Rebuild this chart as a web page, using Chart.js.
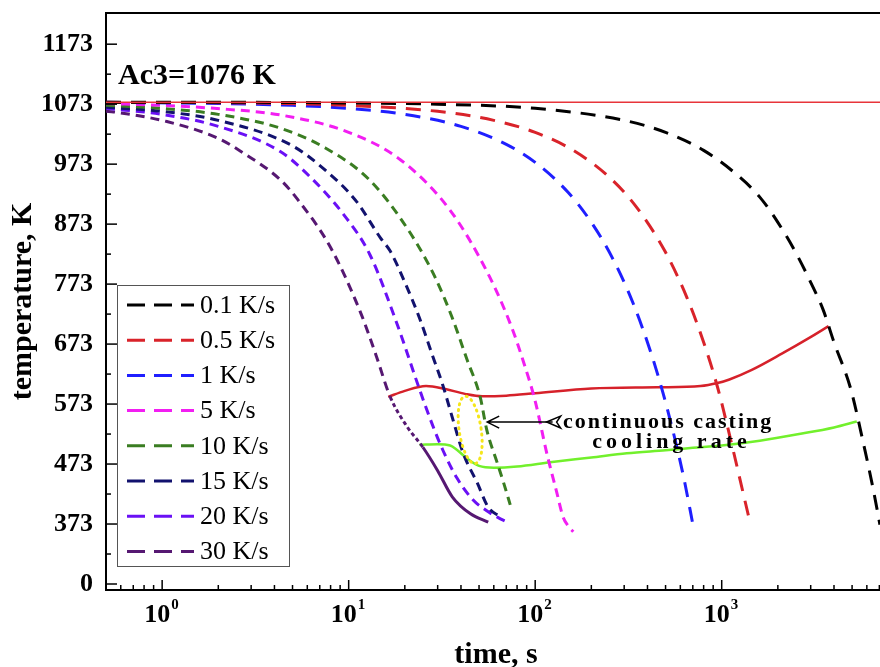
<!DOCTYPE html>
<html>
<head>
<meta charset="utf-8">
<title>Cooling curves</title>
<script src="https://cdn.jsdelivr.net/npm/chart.js@4.4.1/dist/chart.umd.min.js"></script>
<style>
  html, body { margin: 0; padding: 0; background: #fff; overflow: hidden; }
  #wrap { width: 890px; height: 667px; }
</style>
</head>
<body>
<div id="wrap"><canvas id="coolingChart" width="890" height="667"></canvas></div>
<script>
// cooling rates (legend order)
const rateLabels = ['0.1 K/s', '0.5 K/s', '1 K/s', '5 K/s', '10 K/s', '15 K/s', '20 K/s', '30 K/s'];

// time (s) / temperature (K)
const time01 = [0.5, 1, 3, 10, 30, 100, 300, 500, 800, 1200, 1600, 2000, 2500, 3000, 3500, 4000, 4900, 5700, 6500, 7050];
const temp01 = [1076, 1076, 1076, 1075, 1073, 1066, 1046, 1026, 996, 956, 918, 876, 825, 776, 730, 676, 600, 513, 430, 372];
const time05 = [0.5, 3, 10, 30, 60, 100, 160, 250, 350, 500, 650, 800, 950, 1150, 1300, 1420];
const temp05 = [1076, 1075, 1071, 1061, 1046, 1026, 996, 951, 901, 826, 751, 676, 601, 497, 426, 375];
const time1 = [0.5, 2, 5, 10, 20, 40, 70, 100, 150, 200, 260, 335, 420, 486, 560, 630, 703];
const temp1 = [1076, 1074, 1071, 1066, 1056, 1036, 1006, 976, 926, 876, 816, 741, 656, 590, 516, 446, 370];
const time5 = [0.5, 1, 1.9, 4.3, 10, 19, 35, 57, 75, 86, 100, 116, 130, 141, 150, 160];
const temp5 = [1074, 1071, 1066, 1055, 1026, 980, 896, 785, 700, 646, 578, 488, 428, 385, 370, 360];
const time10 = [0.5, 1, 2, 4.3, 7.5, 13, 20.8, 29, 36, 43, 50.7, 55, 62.6, 68, 73.5];
const temp10 = [1071, 1066, 1056, 1033, 1000, 946, 864, 785, 716, 648, 585, 530, 475, 440, 405];
const time15 = [0.5, 1, 2, 4.9, 7.3, 11, 14.8, 16.7, 20, 24, 28, 32, 36, 41, 49, 56, 65];
const temp15 = [1068, 1061, 1046, 1005, 966, 911, 850, 828, 776, 716, 656, 604, 550, 492, 441, 401, 385];
const time20 = [0.5, 1, 2, 4.3, 6.2, 9.4, 13, 18.2, 24.2, 28, 32, 38, 46.5, 55, 63, 71];
const temp20 = [1066, 1056, 1036, 994, 952, 889, 822, 706, 594, 540, 496, 450, 413, 395, 384, 376];
const time30 = [0.5, 0.55, 1.06, 2, 2.62, 4.3, 5.3, 8, 11.5, 14, 16.7, 20.6, 25, 30, 36, 45, 56];
const temp30 = [1061, 1060, 1044, 1016, 995, 947, 915, 834, 728, 655, 585, 535, 501, 462, 418, 390, 376];

// continuous casting cooling curves (solid)
const castTimeUpper = [16.3, 20, 26, 33, 42, 52, 70, 100, 200, 450, 770, 950, 1100, 1450, 2100, 2900, 3740];
const castTempUpper = [585, 595, 603, 598, 590, 586, 587, 591, 599, 601, 603, 608, 614, 630, 657, 682, 703];
const castTimeLower = [24, 30, 35, 38, 41, 45, 50, 60, 80, 120, 200, 310, 500, 700, 1000, 1600, 2600, 4000, 5300];
const castTempLower = [505, 506, 504, 497, 488, 478, 470, 467, 469, 476, 484, 491, 496, 500, 504, 512, 523, 534, 544];

const ac3Temp = 1076;

// axis ticks
const yTickValues = [273, 373, 473, 573, 673, 773, 873, 973, 1073, 1173];
const yTickLabels = ['0', '373', '473', '573', '673', '773', '873', '973', '1073', '1173'];
const xTickValues = [1, 10, 100, 1000];
const xTickPowers = ['0', '1', '2', '3'];

const rateColors = ['#000000', '#d9232a', '#1f1fff', '#f21ef2', '#3a7d22', '#12126e', '#6a10f5', '#561872'];
const rateDashes = [[15, 10], [15, 10], [15, 10], [9, 6], [9, 6], [9, 6], [9, 6], [9, 6]];
const serif = "'Liberation Serif', 'Times New Roman', serif";

const seriesTimes = [time01, time05, time1, time5, time10, time15, time20, time30];
const seriesTemps = [temp01, temp05, temp1, temp5, temp10, temp15, temp20, temp30];

function toPoints(ts, Ts) {
    return ts.map((t, i) => ({ x: t, y: Ts[i] }));
}

const datasets = rateLabels.map((label, i) => ({
    label: label,
    data: toPoints(seriesTimes[i], seriesTemps[i]),
    borderColor: rateColors[i],
    borderWidth: 3,
    borderDash: rateDashes[i],
    pointRadius: 0,
    fill: false,
    cubicInterpolationMode: 'monotone'
}));

// the 30 K/s curve turns solid where it follows the casting path
datasets[7].segment = {
    borderDash: ctx => ctx.p0.parsed.x >= 24 ? [] : (ctx.p0.parsed.x >= 16.5 ? [4, 3] : [9, 6])
};

datasets.push({
    label: 'casting upper',
    data: toPoints(castTimeUpper, castTempUpper),
    borderColor: '#d6212a', borderWidth: 2.5, pointRadius: 0, fill: false,
    cubicInterpolationMode: 'monotone'
});
datasets.push({
    label: 'casting lower',
    data: toPoints(castTimeLower, castTempLower),
    borderColor: '#72f02c', borderWidth: 2.5, pointRadius: 0, fill: false,
    cubicInterpolationMode: 'monotone'
});
datasets.push({
    label: 'Ac3',
    data: [{ x: 0.5, y: ac3Temp }, { x: 7600, y: ac3Temp }],
    borderColor: '#e8343a', borderWidth: 1.5, pointRadius: 0, fill: false,
    order: -1
});

// inward ticks, top frame, log labels, legend box and annotations
const framePlugin = {
    id: 'frame',
    afterDraw(chart) {
        const c = chart.ctx;
        const area = chart.chartArea;
        const xs = chart.scales.x;
        const ys = chart.scales.y;
        c.save();
        c.strokeStyle = '#000';
        c.lineWidth = 2;
        c.beginPath();
        c.moveTo(area.left, area.top);
        c.lineTo(area.right, area.top);
        c.stroke();

        // y ticks
        c.lineWidth = 1.5;
        yTickValues.forEach(v => {
            const y = ys.getPixelForValue(v);
            c.beginPath(); c.moveTo(area.left, y); c.lineTo(area.left + 11, y); c.stroke();
            const ym = ys.getPixelForValue(v + 50);
            if (ym > area.top + 5) {
                c.beginPath(); c.moveTo(area.left, ym); c.lineTo(area.left + 5, ym); c.stroke();
            }
        });

        // x ticks
        for (let d = 0.1; d <= 10000; d *= 10) {
            for (let m = 1; m < 10; m++) {
                const v = d * m;
                if (v < xs.min || v > xs.max) continue;
                const x = xs.getPixelForValue(v);
                const len = m === 1 ? 10 : 5;
                c.beginPath(); c.moveTo(x, area.bottom); c.lineTo(x, area.bottom - len); c.stroke();
            }
        }

        // x tick labels 10^n
        c.fillStyle = '#000';
        c.textBaseline = 'alphabetic';
        xTickValues.forEach((v, i) => {
            const x = xs.getPixelForValue(v);
            c.font = 'bold 26px ' + serif;
            c.textAlign = 'right';
            c.fillText('10', x + 8, 622);
            c.font = 'bold 15px ' + serif;
            c.textAlign = 'left';
            c.fillText(xTickPowers[i], x + 9, 609);
        });

        // Ac3 label
        c.font = 'bold 30px ' + serif;
        c.textAlign = 'left';
        c.textBaseline = 'middle';
        c.fillText('Ac3=1076 K', xs.getPixelForValue(0.58), ys.getPixelForValue(1120));

        // yellow dotted ellipse
        c.strokeStyle = '#f5e61a';
        c.lineWidth = 3;
        c.lineCap = 'round';
        c.setLineDash([1, 5]);
        c.beginPath();
        c.ellipse(xs.getPixelForValue(44.8), ys.getPixelForValue(530), 11, 34, -0.15, 0, Math.PI * 2);
        c.stroke();
        c.setLineDash([]);
        c.lineCap = 'butt';

        // arrow
        const ay = ys.getPixelForValue(543);
        const ax0 = xs.getPixelForValue(55.3);
        const ax1 = xs.getPixelForValue(124);
        c.strokeStyle = '#000';
        c.lineWidth = 1.5;
        c.beginPath();
        c.moveTo(ax0, ay); c.lineTo(ax1, ay);
        c.moveTo(ax0 + 12, ay - 6); c.lineTo(ax0, ay); c.lineTo(ax0 + 12, ay + 6);
        c.stroke();
        c.beginPath();
        c.moveTo(ax1 - 6, ay); c.lineTo(ax1 + 8, ay - 6); c.lineTo(ax1 + 4, ay); c.lineTo(ax1 + 8, ay + 6); c.closePath();
        c.stroke();

        c.font = 'bold 22px ' + serif;
        c.letterSpacing = '2px';
        c.fillText('continuous casting', xs.getPixelForValue(141), ay);
        c.letterSpacing = '4px';
        c.fillText('cooling rate', xs.getPixelForValue(202), ys.getPixelForValue(510));
        c.letterSpacing = '0px';

        // legend box
        const lx = area.left + 11, ly = 285, lw = 172, lh = 281;
        c.fillStyle = '#fff';
        c.fillRect(lx, ly, lw, lh);
        c.strokeStyle = '#555';
        c.lineWidth = 1;
        c.strokeRect(lx + 0.5, ly + 0.5, lw, lh);
        c.font = '26px ' + serif;
        c.textAlign = 'left';
        c.textBaseline = 'middle';
        rateLabels.forEach((label, i) => {
            const y = 305 + i * 35.2;
            c.strokeStyle = rateColors[i];
            c.lineWidth = 3;
            c.setLineDash([18, 9]);
            c.beginPath(); c.moveTo(127, y); c.lineTo(194, y); c.stroke();
            c.setLineDash([]);
            c.fillStyle = '#000';
            c.fillText(label, 200, y + 1);
        });
        c.restore();
    }
};

function fixBox(size, horizontal) {
    return scale => {
        if (horizontal) scale.height = size; else scale.width = size;
        scale.paddingTop = 0;
        scale.paddingBottom = 0;
        scale.paddingLeft = 0;
        scale.paddingRight = 0;
    };
}

const ctx = document.getElementById('coolingChart').getContext('2d');
const coolingChart = new Chart(ctx, {
    type: 'line',
    data: { datasets: datasets },
    options: {
        responsive: false,
        animation: false,
        layout: { padding: { left: 0, top: 13, right: 4, bottom: 0 } },
        plugins: { legend: { display: false }, tooltip: { enabled: false } },
        scales: {
            x: {
                type: 'logarithmic',
                min: 0.5,
                max: 7600,
                grid: { display: false, drawTicks: false },
                border: { display: true, color: '#000', width: 2 },
                ticks: { display: false },
                title: {
                    display: true, text: 'time, s', color: '#000',
                    font: { family: serif, size: 30, weight: 'bold', lineHeight: 0.8 },
                    padding: 0
                },
                afterFit: fixBox(77, true)
            },
            y: {
                type: 'linear',
                min: 263,
                max: 1225,
                grid: { display: false, drawTicks: false },
                border: { display: true, color: '#000', width: 2 },
                afterBuildTicks: scale => {
                    scale.ticks = yTickValues.map(v => ({ value: v }));
                },
                ticks: {
                    color: '#000',
                    padding: 13,
                    font: { family: serif, size: 26, weight: 'bold' },
                    callback: v => yTickLabels[yTickValues.indexOf(v)]
                },
                title: {
                    display: true, text: 'temperature, K', color: '#000',
                    font: { family: serif, size: 30, weight: 'bold', lineHeight: 1 },
                    padding: { top: 8, bottom: 0 }
                },
                afterFit: fixBox(106, false)
            }
        }
    },
    plugins: [framePlugin]
});
</script>
</body>
</html>
